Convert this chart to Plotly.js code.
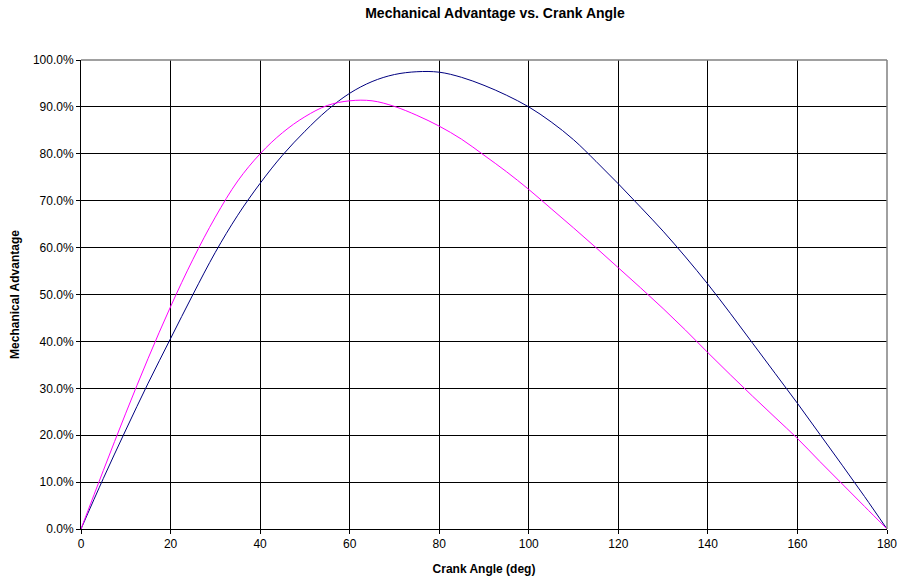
<!DOCTYPE html>
<html>
<head>
<meta charset="utf-8">
<script src="https://cdn.plot.ly/plotly-3.0.1.min.js"></script>
<style>html,body{margin:0;padding:0;background:#fff;}#chart{width:903px;height:583px;}</style>
</head>
<body>
<div id="chart"></div>
<script>
// Crank angle (deg)
const crankAngle = [0,5,10,15,20,25,30,35,40,45,50,55,60,65,70,75,80,85,90,95,100,105,110,115,120,125,130,135,140,145,150,155,160,165,170,175,180];
// Navy series (mechanical advantage, fraction)
const seriesNavy = [0,0.108,0.211,0.311,0.406,0.500,0.590,0.669,0.737,0.797,0.848,0.893,0.929,0.954,0.969,0.975,0.974,0.963,0.946,0.925,0.900,0.868,0.830,0.784,0.736,0.686,0.635,0.580,0.522,0.460,0.396,0.332,0.268,0.202,0.136,0.069,0];
// Magenta series (mechanical advantage, fraction)
const seriesMagenta = [0,0.125,0.247,0.364,0.474,0.575,0.665,0.742,0.800,0.845,0.879,0.903,0.913,0.913,0.901,0.882,0.859,0.831,0.797,0.762,0.724,0.683,0.642,0.600,0.557,0.514,0.470,0.424,0.376,0.329,0.283,0.238,0.193,0.144,0.096,0.048,0];
const xTicks = [0,20,40,60,80,100,120,140,160,180];

const font = "Liberation Sans, Arial, sans-serif";
const traces = [
  {x: crankAngle, y: seriesNavy, type:'scatter', mode:'lines', line:{color:'#000080', width:1, shape:'spline', smoothing:1}, name:'Navy'},
  {x: crankAngle, y: seriesMagenta, type:'scatter', mode:'lines', line:{color:'#FF00FF', width:1, shape:'spline', smoothing:1}, name:'Magenta'}
];
const layout = {
  width:903, height:583,
  margin:{l:81, r:16, t:60, b:54},
  paper_bgcolor:'#ffffff', plot_bgcolor:'#ffffff',
  showlegend:false,
  font:{family:font, color:'#000', size:12},
  title:{text:'<b>Mechanical Advantage vs. Crank Angle</b>', font:{family:font, size:14, color:'#000'}, xref:'container', x:495/903, xanchor:'center', yref:'container', y:1-13/583, yanchor:'middle'},
  xaxis:{range:[0,180], tickvals:xTicks, ticktext:xTicks.map(String), showgrid:true, gridcolor:'#000', gridwidth:1,
         showline:true, linecolor:'#000', linewidth:1, ticks:'outside', ticklen:4, tickcolor:'#000', zeroline:false,
         tickfont:{family:font, size:12, color:'#000'},
         title:{text:'<b>Crank Angle (deg)</b>', font:{family:font, size:12, color:'#000'}, standoff:14}},
  yaxis:{range:[0,1], dtick:0.1, tickformat:'.1%', showgrid:true, gridcolor:'#000', gridwidth:1,
         showline:true, linecolor:'#000', linewidth:1, ticks:'outside', ticklen:4, tickcolor:'#000', zeroline:false,
         tickfont:{family:font, size:12, color:'#000'},
         title:{text:'<b>Mechanical Advantage</b>', font:{family:font, size:12, color:'#000'}, standoff:10}},
  shapes:[
    {type:'line', xref:'paper', yref:'paper', x0:0, x1:1, y0:1, y1:1, line:{color:'#808080', width:1.5}, layer:'above'},
    {type:'line', xref:'paper', yref:'paper', x0:1, x1:1, y0:0, y1:1, line:{color:'#808080', width:1.5}, layer:'above'}
  ]
};
Plotly.newPlot('chart', traces, layout, {displayModeBar:false, staticPlot:true});
</script>
</body>
</html>
